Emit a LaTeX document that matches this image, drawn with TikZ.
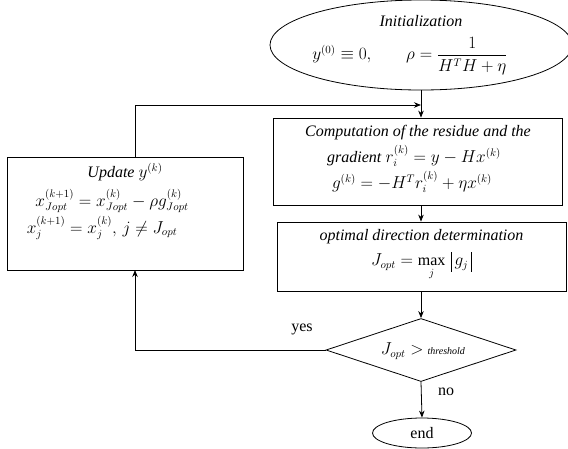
\documentclass[tikz,border=0pt]{standalone}
\usepackage{amsmath}
\usepackage{fontspec}
\setmainfont{Liberation Serif}
\usetikzlibrary{shapes.geometric,arrows.meta}
\tikzset{
  arr/.style={-{Stealth[length=7pt,width=5.5pt]}},
  boxshape/.style={draw,rectangle,inner sep=0pt},
  txt/.style={inner sep=0pt,align=center},
}
\newcommand{\barline}{\rule[-6pt]{0.6pt}{20pt}}
\begin{document}
\begin{tikzpicture}[x=1pt,y=-1pt,line width=0.8pt,font=\fontsize{16}{19}\selectfont]
\useasboundingbox (0,0) rectangle (568,448);
% start ellipse
\node[draw,ellipse,minimum width=302pt,minimum height=90pt,inner sep=0pt] (init) at (421,45) {};
\node[txt] (initT) at (421,21) {\textit{Initialization}};
\node[txt] (initF) at (410,56) {$y^{(0)}\equiv 0,\qquad \rho=\dfrac{1}{H^{T}H+\eta}$};
% computation box
\node[boxshape,minimum width=289pt,minimum height=87pt] (comp) at (418,161.5) {};
\node[txt] (compA) at (418,133) {\textit{Computation of the residue and the}};
\node[txt] (compB) at (414,156) {\textit{gradient} $r_{i}^{(k)}=y-Hx^{(k)}$};
\node[txt] (compC) at (412,182) {$g^{(k)}=-H^{T}r_{i}^{(k)}+\eta x^{(k)}$};
% optimal direction box
\node[boxshape,minimum width=289pt,minimum height=69pt] (opt) at (421.5,256.5) {};
\node[txt] (optA) at (421.5,237) {\textit{optimal direction determination}};
\node[txt] (optB) at (421.5,266) {$J_{opt}=\max\limits_{j}\,\barline\, g_{j}\,\barline$};
% update box
\node[boxshape,minimum width=236pt,minimum height=113pt] (upd) at (125,213.5) {};
\node[txt] (updA) at (125,172) {\textit{Update} $y^{(k)}$};
\node[txt] (updB) at (112,201) {$x_{Jopt}^{(k+1)}=x_{Jopt}^{(k)}-\rho g_{Jopt}^{(k)}$};
\node[txt] (updC) at (102,228) {$x_{j}^{(k+1)}=x_{j}^{(k)},\, j\neq J_{opt}$};
% decision
\node[draw,diamond,aspect=3,minimum width=190pt,minimum height=63pt,inner sep=0pt] (dec) at (421,350) {};
\node[txt] (decT) at (423,351) {$J_{opt}>$ {\fontsize{10}{12}\selectfont\textit{threshold}}};
% end
\node[draw,ellipse,minimum width=99pt,minimum height=30pt,inner sep=0pt] (fin) at (422,433) {end};
% connectors
\coordinate (jn) at (421,105);
\coordinate (ut) at (135,157);
\coordinate (ub) at (135,270);
\draw[arr] (ut) |- (jn);
\draw[arr] (init.south) -- (comp.north -| init.south);
\draw[arr] (comp.south -| init.south) -- (opt.north -| init.south);
\draw[arr] (opt.south -| dec.north) -- (dec.north);
\draw[arr] (dec.west) -| (ub);
\draw[arr] (dec.south) -- (fin.north);
\node[txt] (yes) at (302,329) {yes};
\node[txt] (no) at (446,392) {no};
\end{tikzpicture}
\end{document}
